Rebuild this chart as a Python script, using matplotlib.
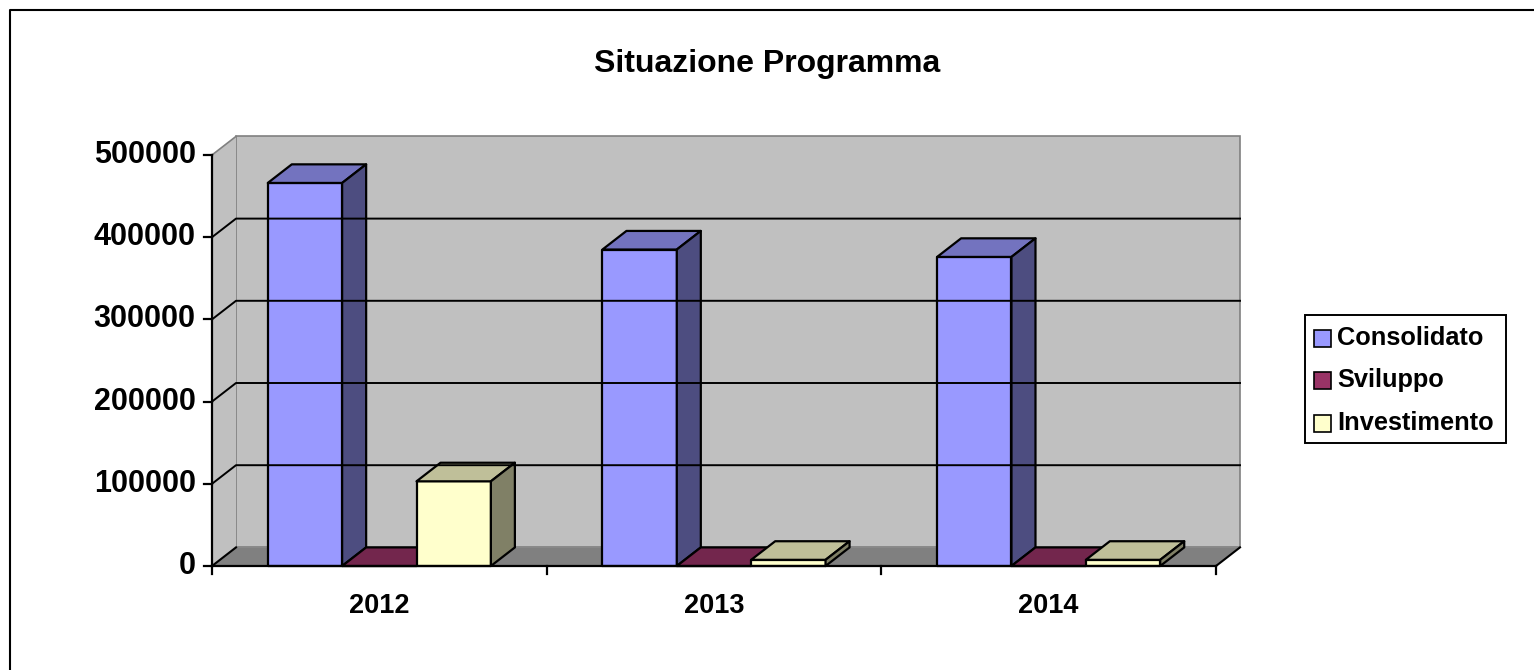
import matplotlib
matplotlib.use("Agg")
import matplotlib.pyplot as plt
from matplotlib.patches import Polygon, Rectangle
import numpy as np

plt.rcParams['font.family'] = ['Liberation Sans', 'DejaVu Sans']

title = "Situazione Programma"
categories = ["2012", "2013", "2014"]
series_names = ["Consolidato", "Sviluppo", "Investimento"]
consolidato = [466000, 385000, 376000]
sviluppo = [0, 0, 0]
investimento = [103000, 7500, 7500]
y_ticks = [0, 100000, 200000, 300000, 400000, 500000]

front_colors = ["#9999FF", "#993366", "#FFFFCC"]


def shade(hex_color, f):
    rgb = np.array(matplotlib.colors.to_rgb(hex_color))
    return tuple(rgb * f)


W, H = 1534, 670
fig = plt.figure(figsize=(W / 100, H / 100), dpi=100)

# front plane of the plot area in pixels
x0, x1 = 212, 1216
y_bot, y_top = 566, 155
ax = fig.add_axes([x0 / W, (H - y_bot) / H, (x1 - x0) / W, (y_bot - y_top) / H])
ymax = y_ticks[-1]
ax.set_xlim(0, len(categories))
ax.set_ylim(0, ymax)
ax.axis("off")

# depth offset in data units
DX = 24 / (x1 - x0) * len(categories)
DY = 18.6 / (y_bot - y_top) * ymax

kw = dict(clip_on=False)

# back wall + left wall
ax.add_patch(Polygon([(DX, DY), (3 + DX, DY), (3 + DX, ymax + DY), (DX, ymax + DY)],
                     closed=True, facecolor="#C0C0C0", edgecolor="#808080", lw=1.2, **kw))
ax.add_patch(Polygon([(0, 0), (DX, DY), (DX, ymax + DY), (0, ymax)],
                     closed=True, facecolor="#C0C0C0", edgecolor="none", **kw))
ax.plot([0, DX], [ymax, ymax + DY], color="#808080", lw=1.2, **kw)

# floor
ax.add_patch(Polygon([(0, 0), (3, 0), (3 + DX, DY), (DX, DY)],
                     closed=True, facecolor="#808080", edgecolor="none", **kw))
ax.plot([3, 3 + DX], [0, DY], color="black", lw=1.5, **kw)
ax.plot([0, DX], [0, DY], color="black", lw=1.5, **kw)

# gridlines
for v in y_ticks[1:-1]:
    ax.plot([0, DX, 3 + DX], [v, v + DY, v + DY], color="black", lw=1.4, **kw)

# axes lines and ticks
ax.plot([0, 0], [0, ymax], color="black", lw=1.6, **kw)
ax.plot([0, 3], [0, 0], color="black", lw=1.6, **kw)
tick_dx = 8 / (x1 - x0) * 3
tick_dy = 8 / (y_bot - y_top) * ymax
for v in y_ticks:
    ax.plot([-tick_dx, 0], [v, v], color="black", lw=1.6, **kw)
    ax.text(-tick_dx - 0.025, v, f"{v}", ha="right", va="center",
            fontsize=22, fontweight="bold")
for i in range(len(categories) + 1):
    ax.plot([i, i], [0, -tick_dy], color="black", lw=1.6, **kw)
for i, c in enumerate(categories):
    ax.text(i + 0.5, -48500, c, ha="center", va="center", fontsize=19.5, fontweight="bold")

# bars
values = [consolidato, sviluppo, investimento]
n = len(series_names)
bw = 1 / (n + 1.5)
for i in range(len(categories)):
    for j in range(n):
        v = values[j][i]
        xl = i + 0.75 * bw + j * bw
        xr = xl + bw
        fc = front_colors[j]
        ec = dict(edgecolor="black", lw=1.6, joinstyle="round", **kw)
        ax.add_patch(Polygon([(xl, 0), (xr, 0), (xr, v), (xl, v)], closed=True,
                             facecolor=fc, **ec))
        ax.add_patch(Polygon([(xl, v), (xr, v), (xr + DX, v + DY), (xl + DX, v + DY)],
                             closed=True, facecolor=shade(fc, 0.75), **ec))
        if v > 0:
            ax.add_patch(Polygon([(xr, 0), (xr + DX, DY), (xr + DX, v + DY), (xr, v)],
                                 closed=True, facecolor=shade(fc, 0.5), **ec))

# title
fig.text(767 / W, 1 - 64 / H, title, ha="center", va="center",
         fontsize=23, fontweight="bold")

# legend
lx0, lx1, ly0, ly1 = 1305, 1506, 315, 443
fig.add_artist(Rectangle((lx0 / W, 1 - ly1 / H), (lx1 - lx0) / W, (ly1 - ly0) / H,
                         transform=fig.transFigure, facecolor="white",
                         edgecolor="black", lw=1.4))
for j, name in enumerate(series_names):
    yc = 338 + j * 42.5
    fig.add_artist(Rectangle((1314 / W, 1 - (yc + 8.5) / H), 17 / W, 17 / H,
                             transform=fig.transFigure, facecolor=front_colors[j],
                             edgecolor="black", lw=1.2))
    fig.text(1337 / W, 1 - yc / H, name, ha="left", va="center",
             fontsize=18.3, fontweight="bold")

# chart border
fig.add_artist(plt.Line2D([10 / W, 10 / W, 1], [0, 1 - 10 / H, 1 - 10 / H],
                          transform=fig.transFigure, color="black", lw=1.5))

fig.savefig("out.png", dpi=100, facecolor="white")
